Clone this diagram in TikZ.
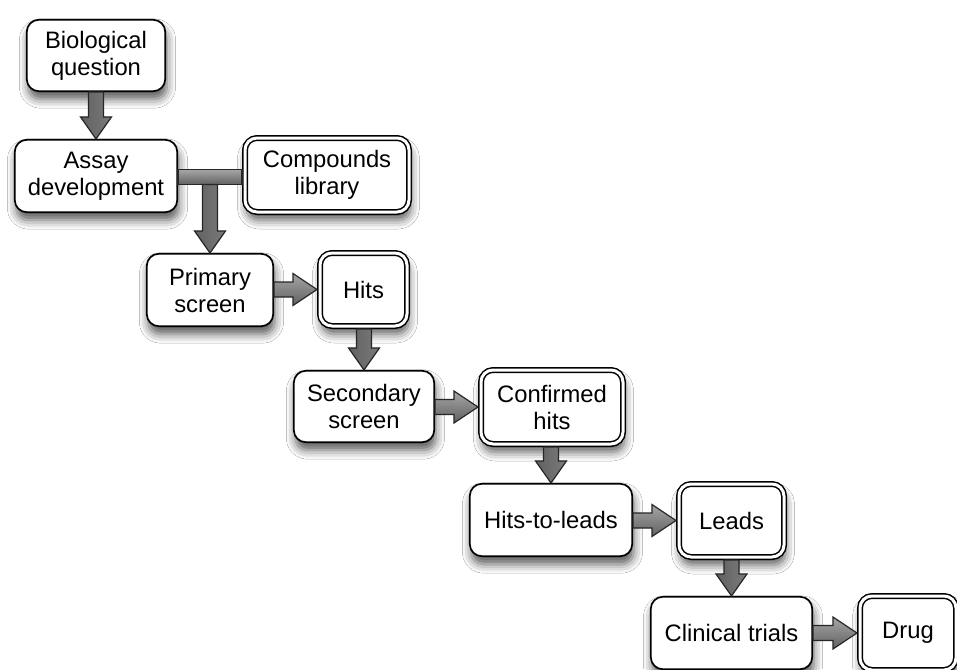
\documentclass[tikz,border=0pt]{standalone}
\usepackage{fontspec}
\setmainfont{Liberation Sans}
\usetikzlibrary{calc,shadows.blur}
\tikzset{
  x=1pt,y=1pt,
  boxshadow/.style={blur shadow={shadow xshift=1.5pt,shadow yshift=-8pt,shadow blur radius=9pt,shadow opacity=65}},
  box/.style={draw=black,line width=1.7pt,rounded corners=12pt,fill=white,align=center,
    inner sep=0pt,font=\fontsize{23.8}{27}\selectfont,boxshadow},
  dbox/.style={box,line width=1.5pt,double=white,double distance=3pt,outer sep=3pt},
  vblock/.style={draw=black!85,line width=1.2pt,line join=miter,left color=black!62,middle color=black!35,right color=black!52},
  hblock/.style={draw=black!85,line width=1.2pt,line join=miter,top color=black!35,bottom color=black!62},
}
% vertical block arrow: starts at y of #1, ends at #2 (x of #2)
\newcommand\varr[2]{\path[vblock] let \p1=(#1), \p2=(#2) in
  (\x2-7.5,\y1) -- (\x2+7.5,\y1) -- (\x2+7.5,\y2+22) -- (\x2+15.5,\y2+22) -- (\x2,\y2)
  -- (\x2-15.5,\y2+22) -- (\x2-7.5,\y2+22) -- cycle;}
% horizontal block arrow: starts at x of #1, ends at #2 (y of #2)
\newcommand\harr[2]{\path[hblock] let \p1=(#1), \p2=(#2) in
  (\x1,\y2+7.5) -- (\x2-24,\y2+7.5) -- (\x2-24,\y2+16) -- (\x2,\y2)
  -- (\x2-24,\y2-16) -- (\x2-24,\y2-7.5) -- (\x1,\y2-7.5) -- cycle;}
\begin{document}
\begin{tikzpicture}
\useasboundingbox (0,0) rectangle (957,-669);
\fill[white] (0,0) rectangle (957,-669);
\clip (0,0) rectangle (957,-669);

\node[box,minimum width=138.4pt,minimum height=71.4pt] (bio) at (96,-55.5) {Biological\\question};
\node[box,minimum width=162.4pt,minimum height=72.4pt] (assay) at (96,-176) {Assay\\development};
\node[dbox,minimum width=164pt,minimum height=74pt] (comp) at (327,-175) {Compounds\\library};
\node[box,minimum width=126.4pt,minimum height=72.4pt] (prim) at (210,-290) {Primary\\screen};
\node[dbox,minimum width=87pt,minimum height=73pt] (hits) at (363.5,-289.5) {Hits};
\node[box,minimum width=140.4pt,minimum height=71.4pt] (sec) at (364,-406.5) {Secondary\\screen};
\node[dbox,minimum width=142pt,minimum height=74pt] (conf) at (552,-407) {Confirmed\\hits};
\node[box,minimum width=162.4pt,minimum height=72.4pt] (h2l) at (551,-520) {Hits-to-leads};
\node[dbox,minimum width=105pt,minimum height=73pt] (leads) at (731.5,-520.5) {Leads};
\node[box,minimum width=161.4pt,minimum height=72.4pt] (clin) at (731.5,-633) {Clinical trials};
\node[dbox,minimum width=96pt,minimum height=74pt] (drug) at (908,-633) {Drug};

% connectors
\varr{bio.south}{assay.north}
\path[hblock] let \p1=(assay.east), \p2=(comp.west) in (\x1,\y1-8.5) rectangle (\x2,\y1+6.5);
\coordinate (tj) at ($(assay.east)+(0,-8.5)$);
\varr{tj}{prim.north}
\harr{prim.east}{hits.west}
\varr{hits.south}{sec.north}
\harr{sec.east}{conf.west}
\varr{conf.south}{h2l.north}
\harr{h2l.east}{leads.west}
\varr{leads.south}{clin.north}
\harr{clin.east}{drug.west}
\end{tikzpicture}
\end{document}
